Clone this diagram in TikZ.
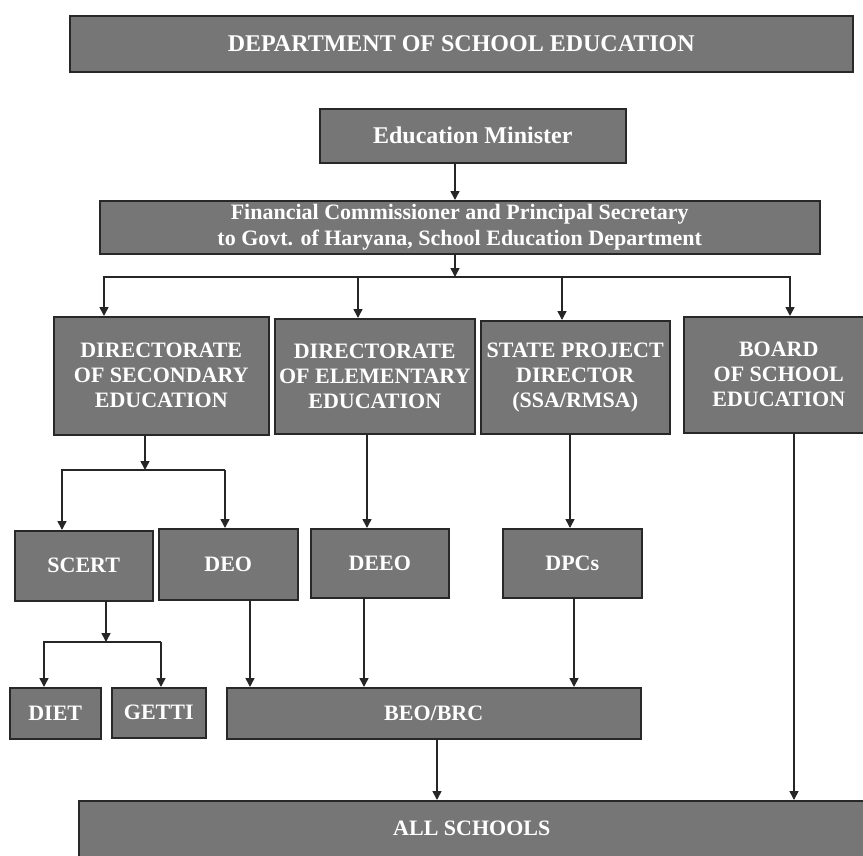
\documentclass[tikz,border=0pt]{standalone}
\usepackage{fontspec}
\setmainfont{Liberation Serif}
\usetikzlibrary{arrows.meta}
\definecolor{boxgray}{RGB}{118,118,118}
\definecolor{edgegray}{RGB}{40,40,40}

\begin{document}
\begin{tikzpicture}[x=1pt,y=-1pt,
    unit/.style={draw=edgegray, line width=1.5pt, fill=boxgray, text=white,
        font=\fontsize{22}{25}\selectfont\bfseries, align=center,
        inner sep=0pt, anchor=north west},
    bigunit/.style={unit, font=\fontsize{24}{27}\selectfont\bfseries},
    arr/.style={-{Triangle[length=9pt,width=9pt]}, line width=1.6pt, draw=black!85},
    link/.style={line width=1.6pt, draw=black!85, line cap=rect},
]
    \useasboundingbox (0,0) rectangle (863,855);
    \clip (0,0) rectangle (863,855);

    % top rows
    \node[bigunit, minimum width=783pt, minimum height=56pt] (dept) at (69,15) {DEPARTMENT OF SCHOOL EDUCATION};
    \node[bigunit, minimum width=306pt, minimum height=54pt] (minister) at (319,108) {Education Minister};
    \node[unit, minimum width=720pt, minimum height=53pt, font=\fontsize{22}{26}\selectfont\bfseries] (fcps) at (99,200)
        {Financial Commissioner and Principal Secretary\\to Govt. of Haryana, School Education Department};

    % directorates
    \node[unit, minimum width=215pt, minimum height=118pt] (dse) at (53,316) {DIRECTORATE\\OF SECONDARY\\EDUCATION};
    \node[unit, minimum width=200pt, minimum height=115pt] (dee) at (274,318) {DIRECTORATE\\OF ELEMENTARY\\EDUCATION};
    \node[unit, minimum width=189pt, minimum height=113pt] (spd) at (480,320) {STATE PROJECT\\DIRECTOR\\(SSA/RMSA)};
    \node[unit, minimum width=190pt, minimum height=116pt] (bse) at (683,316) {BOARD\\OF SCHOOL\\EDUCATION};

    % district level
    \node[unit, minimum width=138pt, minimum height=70pt] (scert) at (14,530) {SCERT};
    \node[unit, minimum width=139pt, minimum height=71pt] (deo) at (158,528) {DEO};
    \node[unit, minimum width=138pt, minimum height=69pt] (deeo) at (310,528) {DEEO};
    \node[unit, minimum width=139pt, minimum height=69pt] (dpc) at (502,528) {DPCs};

    % block level
    \node[unit, minimum width=91pt, minimum height=51pt] (diet) at (9,687) {DIET};
    \node[unit, minimum width=94pt, minimum height=50pt] (getti) at (111,687) {GETTI};
    \node[unit, minimum width=414pt, minimum height=51pt] (beo) at (226,687) {BEO/BRC};
    \node[unit, minimum width=786pt, minimum height=56pt] (all) at (78,800) {ALL SCHOOLS};

    % minister to secretary to directorates
    \coordinate (fork) at (455,277);
    \draw[arr] (minister.south -| fork) -- (fcps.north -| fork);
    \draw[arr] (fcps.south -| fork) -- (fork);
    \coordinate (busL) at (104,277);
    \coordinate (busR) at (790,277);
    \draw[link] (busL) -- (busR);
    \foreach \x/\target in {104/dse,358/dee,562/spd,790/bse}{
        \coordinate (drop) at (\x,277);
        \draw[arr] (drop) -- (drop |- \target.north);
    }

    % secondary branch
    \coordinate (secfork) at (145,470);
    \coordinate (secL) at (62,470);
    \coordinate (secR) at (225,470);
    \draw[arr] (dse.south -| secfork) -- (secfork);
    \draw[arr] (secR) -- (secL) -- (secL |- scert.north);
    \draw[arr] (secR) -- (secR |- deo.north);

    % scert branch
    \coordinate (scfork) at (106,642);
    \coordinate (scL) at (44,642);
    \coordinate (scR) at (161,642);
    \draw[arr] (scert.south -| scfork) -- (scfork);
    \draw[arr] (scR) -- (scL) -- (scL |- diet.north);
    \draw[arr] (scR) -- (scR |- getti.north);

    % straight drops
    \coordinate (cDee) at (367,0);
    \coordinate (cSpd) at (570,0);
    \coordinate (cDeo) at (250,0);
    \coordinate (cDeeo) at (364,0);
    \coordinate (cDpc) at (574,0);
    \coordinate (cBeo) at (437,0);
    \coordinate (cBse) at (794,0);
    \draw[arr] (dee.south -| cDee) -- (deeo.north -| cDee);
    \draw[arr] (spd.south -| cSpd) -- (dpc.north -| cSpd);
    \draw[arr] (deo.south -| cDeo) -- (beo.north -| cDeo);
    \draw[arr] (deeo.south -| cDeeo) -- (beo.north -| cDeeo);
    \draw[arr] (dpc.south -| cDpc) -- (beo.north -| cDpc);
    \draw[arr] (beo.south -| cBeo) -- (all.north -| cBeo);
    \draw[arr] (bse.south -| cBse) -- (all.north -| cBse);
\end{tikzpicture}
\end{document}
